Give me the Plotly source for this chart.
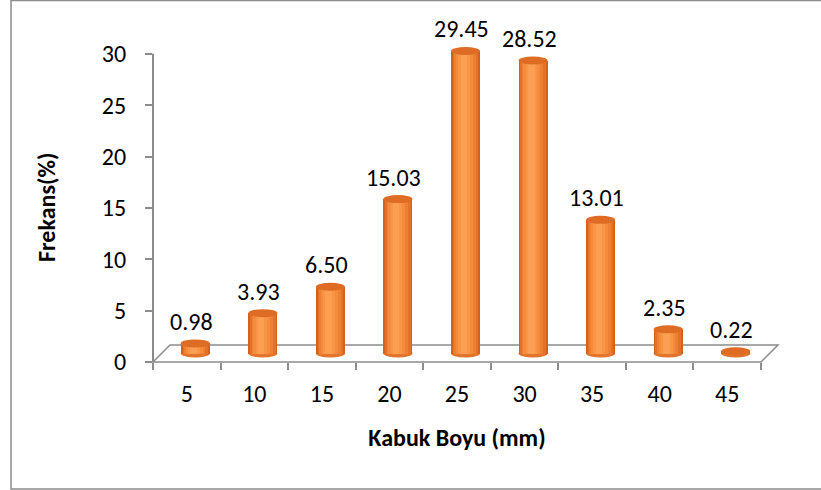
import plotly.graph_objects as go

# ---- data ----
categories = ["5", "10", "15", "20", "25", "30", "35", "40", "45"]
values = [0.98, 3.93, 6.50, 15.03, 29.45, 28.52, 13.01, 2.35, 0.22]
value_labels = ["0.98", "3.93", "6.50", "15.03", "29.45", "28.52", "13.01", "2.35", "0.22"]
y_ticks = [0, 5, 10, 15, 20, 25, 30]
x_title = "Kabuk Boyu (mm)"
y_title = "Frekans(%)"

# ---- geometry / style ----
W, H = 821, 490
L, R, T, B = 153, 60, 23, 128
plot_w = W - L - R          # 608
plot_h = H - T - B          # 339
y_max = 33
n = len(categories)
px_per_cat = plot_w / n
px_per_unit = plot_h / y_max
depth = 17                  # full floor depth in px
half = depth / 2
bar_w = 0.43
font_fam = "Carlito, Lato, sans-serif"
fs = 24
axis_col = "#8c8c8c"

# shifted (depth) axis ranges so bars sit in middle of floor
dx = half / px_per_cat
dy = half / px_per_unit
x2_range = [-0.5 - dx, n - 0.5 - dx]
y2_range = [-dy, y_max - dy]

fig = go.Figure()

# invisible trace to set main categorical axis
fig.add_trace(go.Scatter(x=categories, y=[0] * n, mode="markers",
                         marker=dict(opacity=0), hoverinfo="skip", showlegend=False))

# cylinder shading bands (outer dark -> inner light)
bands = [
    (1.00, "#D4621B", 0.0),
    (0.88, "#E2712A", 0.0),
    (0.74, "#EE8034", -0.02),
    (0.58, "#F58B3D", -0.04),
    (0.40, "#F99646", -0.05),
    (0.22, "#FBA052", -0.06),
]
for frac, col, sh in bands:
    w = bar_w * frac
    fig.add_trace(go.Bar(
        x=categories, y=values, xaxis="x2", yaxis="y2",
        width=w, offset=-w / 2 + sh * bar_w,
        marker=dict(color=col, line=dict(width=0)),
        hoverinfo="skip", showlegend=False,
    ))

shapes = []
def px2xp(px):
    return (px - L) / plot_w
def py2yp(py):
    return (H - B - py) / plot_h

# floor parallelogram (paper coords)
fx0, fx1 = px2xp(L), px2xp(L + plot_w)
fdx = depth / plot_w
fdy = depth / plot_h
shapes.append(dict(type="path", xref="paper", yref="paper",
                   path=f"M {fx0},0 L {fx1},0 L {fx1+fdx},{fdy} L {fx0+fdx},{fdy} Z",
                   line=dict(color=axis_col, width=1.5), fillcolor="white", layer="below"))

# bottom ellipses and top caps
ell_h = 8 / px_per_unit
for i, v in enumerate(values):
    shapes.append(dict(type="circle", xref="x2", yref="y2",
                       x0=i - bar_w / 2, x1=i + bar_w / 2,
                       y0=-ell_h / 2, y1=ell_h / 2,
                       fillcolor="#E2742C", line=dict(width=0), layer="below"))
    shapes.append(dict(type="circle", xref="x2", yref="y2",
                       x0=i - bar_w / 2, x1=i + bar_w / 2,
                       y0=v - ell_h / 2, y1=v + ell_h / 2,
                       fillcolor="#DE6C25", line=dict(width=0), layer="above"))

# y axis line
shapes.append(dict(type="line", xref="paper", yref="y", x0=0, x1=0,
                   y0=y_ticks[0], y1=y_ticks[-1], line=dict(color=axis_col, width=2)))

# outer chart border
shapes.append(dict(type="path", xref="paper", yref="paper",
                   path=f"M {px2xp(W+20)},{py2yp(0.5)} L {px2xp(11)},{py2yp(0.5)} "
                        f"L {px2xp(11)},{py2yp(489)} L {px2xp(W+20)},{py2yp(489)}",
                   line=dict(color=axis_col, width=1.5)))

# value labels (on main axes by category index, shifted by half the depth)
annotations = []
for i, (v, t) in enumerate(zip(values, value_labels)):
    annotations.append(dict(x=i, y=v, xref="x", yref="y", text=t,
                            showarrow=False, yanchor="middle",
                            yshift=half + 22, xshift=half - 4,
                            font=dict(family=font_fam, size=fs, color="black")))

# y axis title
annotations.append(dict(x=px2xp(47), y=(y_ticks[0] + y_ticks[-1]) / 2, xref="paper", yref="y",
                        text=f"<b>{y_title}</b>", textangle=-90, showarrow=False,
                        xanchor="center", yanchor="middle",
                        font=dict(family=font_fam, size=24, color="black")))

fig.update_layout(
    width=W, height=H,
    margin=dict(l=L, r=R, t=T, b=B, pad=0),
    paper_bgcolor="white", plot_bgcolor="rgba(0,0,0,0)",
    barmode="overlay", bargap=0,
    showlegend=False,
    font=dict(family=font_fam, size=fs, color="black"),
    xaxis=dict(type="category", categoryorder="array", categoryarray=categories,
               range=[-0.5, n - 0.5], tickson="boundaries", ticks="outside",
               ticklen=7, tickwidth=1.5, tickcolor=axis_col, showline=False,
               showgrid=False, zeroline=False, fixedrange=True,
               ticklabelstandoff=15,
               tickfont=dict(family=font_fam, size=fs),
               title=dict(text=f"<b>{x_title}</b>", standoff=22,
                          font=dict(family=font_fam, size=24))),
    yaxis=dict(range=[0, y_max], tickvals=y_ticks, ticks="outside", ticklen=7,
               tickwidth=1.5, tickcolor=axis_col, showline=False, showgrid=False,
               zeroline=False, ticklabelstandoff=14,
               tickfont=dict(family=font_fam, size=fs)),
    xaxis2=dict(type="category", categoryorder="array", categoryarray=categories,
                overlaying="x", range=x2_range, visible=False),
    yaxis2=dict(overlaying="y", range=y2_range, visible=False),
    shapes=shapes,
    annotations=annotations,
)

fig.write_html("out.html", config={"displayModeBar": False},
               post_script="document.body.style.margin='0';")
